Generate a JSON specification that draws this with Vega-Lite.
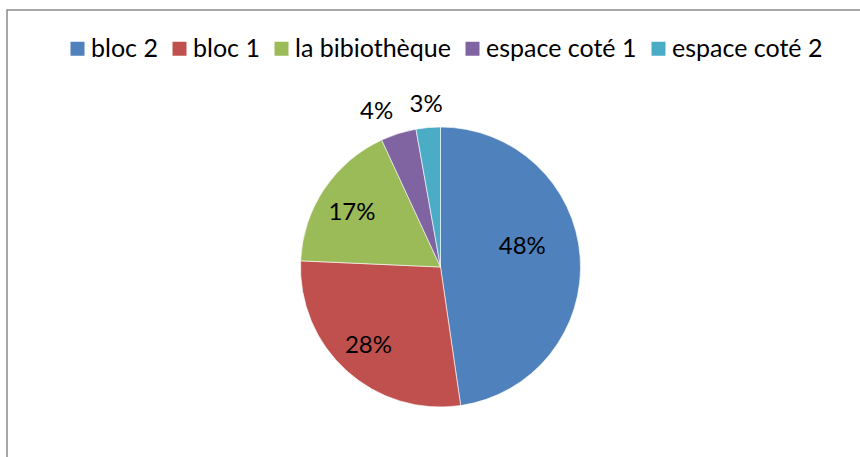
{
  "$schema": "https://vega.github.io/schema/vega-lite/v6.json",
  "width": 867,
  "height": 514,
  "autosize": "none",
  "padding": {"left": 7, "top": 10, "right": 0, "bottom": 0},
  "background": "white",
  "view": {"stroke": "#8a8a8a", "strokeWidth": 1.5},
  "config": {
    "view": {"stroke": "#8a8a8a", "strokeWidth": 1.5},
    "font": "Lato"
  },
  "data": {
    "values": [
      {"zone": "bloc 2", "part": 0.477, "rang": 1},
      {"zone": "bloc 1", "part": 0.28, "rang": 2},
      {"zone": "la bibiothèque", "part": 0.174, "rang": 3},
      {"zone": "espace coté 1", "part": 0.041, "rang": 4},
      {"zone": "espace coté 2", "part": 0.028, "rang": 5}
    ]
  },
  "transform": [
    {"stack": "part", "groupby": [], "sort": [{"field": "rang"}], "as": ["t0", "t1"]},
    {"calculate": "(datum.t0 + datum.t1) / 2", "as": "tm"}
  ],
  "layer": [
    {
      "mark": {"type": "arc", "outerRadius": 140, "stroke": "#ffffff", "strokeWidth": 0.6},
      "encoding": {
        "theta": {"field": "t0", "type": "quantitative", "scale": {"domain": [0, 1]}},
        "theta2": {"field": "t1"},
        "color": {
          "field": "zone",
          "type": "nominal",
          "sort": null,
          "scale": {
            "domain": ["bloc 2", "bloc 1", "la bibiothèque", "espace coté 1", "espace coté 2"],
            "range": ["#4F81BD", "#C0504D", "#9BBB59", "#8064A2", "#4BACC6"]
          },
          "legend": {
            "title": null,
            "orient": "none",
            "direction": "horizontal",
            "legendX": 58,
            "legendY": 26,
            "symbolType": "square",
            "symbolSize": 196,
            "symbolStrokeWidth": 0,
            "symbolOpacity": 1,
            "labelFont": "Lato",
            "labelFontSize": 25,
            "labelColor": "#000000",
            "labelOffset": 1,
            "columnPadding": 9,
            "padding": 0
          }
        }
      }
    },
    {
      "transform": [{"filter": "datum.part > 0.4"}],
      "mark": {"type": "text", "fontSize": 24, "font": "Lato", "color": "#000000", "radius": 82, "dy": -14},
      "encoding": {
        "theta": {"field": "tm", "type": "quantitative", "scale": {"domain": [0, 1]}},
        "text": {"field": "part", "type": "quantitative", "format": ".0%"}
      }
    },
    {
      "transform": [{"filter": "datum.part > 0.1 && datum.part < 0.4"}],
      "mark": {"type": "text", "fontSize": 24, "font": "Lato", "color": "#000000", "radius": 103, "dx": -3, "dy": 3},
      "encoding": {
        "theta": {"field": "tm", "type": "quantitative", "scale": {"domain": [0, 1]}},
        "text": {"field": "part", "type": "quantitative", "format": ".0%"}
      }
    },
    {
      "transform": [{"filter": "datum.rang == 4"}],
      "mark": {"type": "text", "fontSize": 24, "font": "Lato", "color": "#000000", "radius": 163, "dx": -15},
      "encoding": {
        "theta": {"field": "tm", "type": "quantitative", "scale": {"domain": [0, 1]}},
        "text": {"field": "part", "type": "quantitative", "format": ".0%"}
      }
    },
    {
      "transform": [{"filter": "datum.rang == 5"}],
      "mark": {"type": "text", "fontSize": 24, "font": "Lato", "color": "#000000", "radius": 163},
      "encoding": {
        "theta": {"field": "tm", "type": "quantitative", "scale": {"domain": [0, 1]}},
        "text": {"field": "part", "type": "quantitative", "format": ".0%"}
      }
    }
  ]
}
